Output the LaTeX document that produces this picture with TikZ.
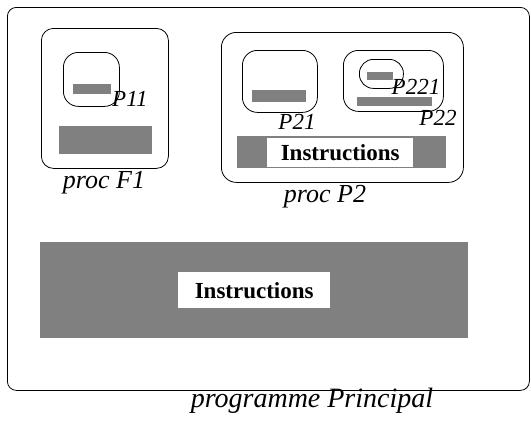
\documentclass[tikz,border=0pt]{standalone}
\usepackage{fontspec}
\setmainfont{Liberation Serif}
\usetikzlibrary{positioning}

\begin{document}
\begin{tikzpicture}[x=1pt,y=-1pt]

% ---- Styles ----
\tikzset{
  procbox/.style={rectangle, rounded corners=#1, draw, line width=0.8pt,
                  anchor=north west, inner sep=0pt},
  procbox/.default=12pt,
  bar/.style={rectangle, fill=black!50, anchor=north west, inner sep=0pt},
  instr/.style={rectangle, fill=white, anchor=north west, inner sep=0pt,
                font=\fontsize{23}{26}\selectfont\bfseries},
  lbl/.style={inner sep=0pt, font=\fontsize{23}{26}\selectfont\itshape},
  proclbl/.style={lbl, font=\fontsize{26}{29}\selectfont\itshape},
}

\useasboundingbox (0,0) rectangle (531,423);

% --- Main program ---
\node[procbox=9pt, minimum width=522pt, minimum height=383pt] (main) at (7,7) {};
\node[bar, minimum width=428pt, minimum height=96pt] (mainbar) at (40,242) {};
\node[instr, minimum width=152pt, minimum height=36pt] (maininstr) at (178,272) {Instructions};
\node[proclbl, font=\fontsize{28}{31}\selectfont\itshape] (mainlbl) at (312,401) {programme Principal};

% --- proc F1 ---
\node[procbox, minimum width=127pt, minimum height=140pt] (f1) at (41,28) {};
\node[procbox=15pt, minimum width=56pt, minimum height=54pt] (p11) at (63,52) {};
\node[bar, minimum width=38pt, minimum height=10pt] (p11bar) at (73,84) {};
\node[lbl, anchor=west] (p11lbl) at (112,99) {P11};
\node[bar, minimum width=93pt, minimum height=28pt] (f1bar) at (59,126) {};
\node[proclbl] (f1lbl) at (104,183) {proc F1};

% --- proc P2 ---
\node[procbox=15pt, minimum width=242pt, minimum height=150pt] (p2) at (221,32) {};
\node[procbox=15pt, minimum width=75pt, minimum height=62pt] (p21) at (242,50) {};
\node[bar, minimum width=54pt, minimum height=12pt] (p21bar) at (252,90) {};
\node[lbl] (p21lbl) at (297,122) {P21};
\node[procbox=15pt, minimum width=100pt, minimum height=61pt] (p22) at (343,50) {};
\node[procbox=14pt, minimum width=44pt, minimum height=29pt] (p221) at (359,59) {};
\node[bar, minimum width=26pt, minimum height=8pt] (p221bar) at (367,72) {};
\node[lbl] (p221lbl) at (416,87) {P221};
\node[bar, minimum width=75pt, minimum height=9pt] (p22bar) at (357,97) {};
\node[lbl] (p22lbl) at (438,118) {P22};
\node[bar, minimum width=209pt, minimum height=32pt] (p2bar) at (237,136) {};
\node[instr, minimum width=146pt, minimum height=29pt] (p2instr) at (267,138) {Instructions};
\node[proclbl] (p2lbl) at (325,197) {proc P2};

\end{tikzpicture}
\end{document}
